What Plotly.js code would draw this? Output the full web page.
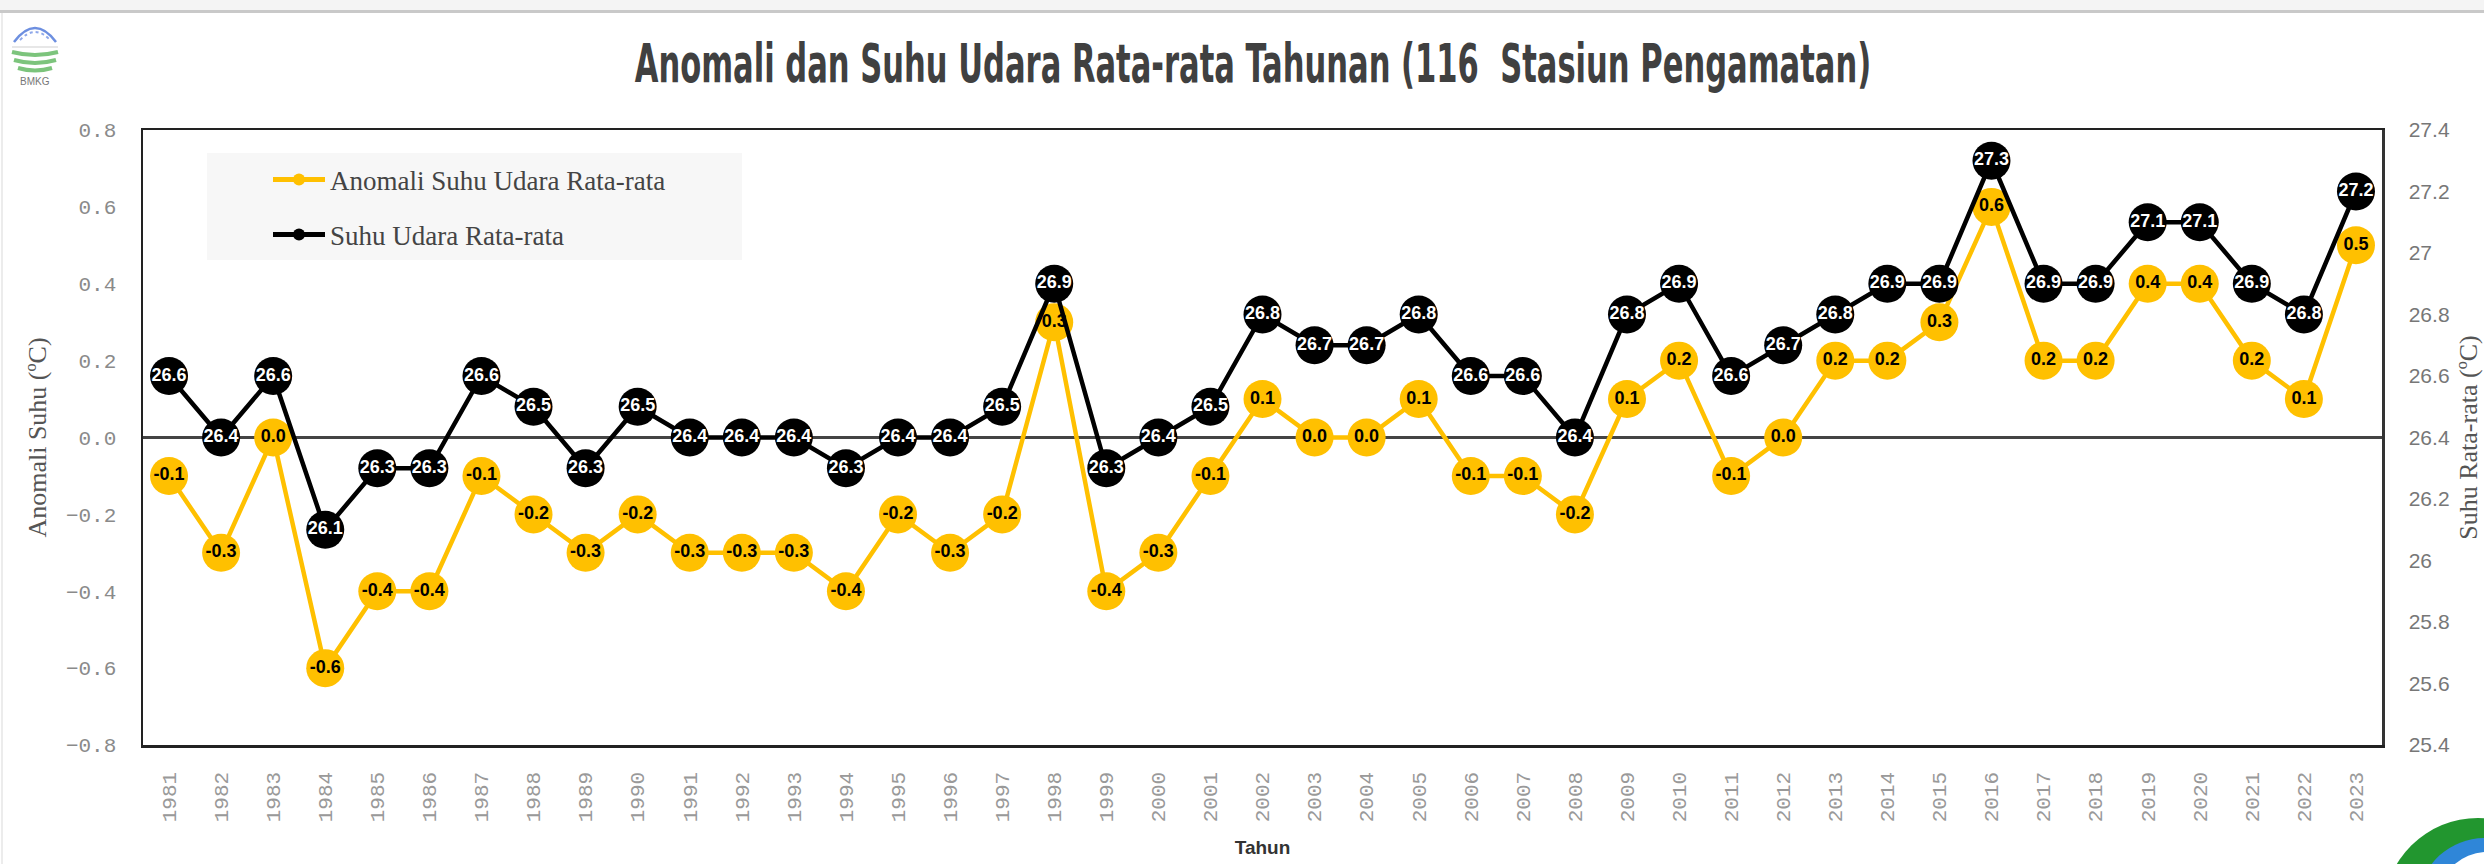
<!DOCTYPE html>
<html>
<head>
<meta charset="utf-8">
<script src="https://cdn.plot.ly/plotly-3.0.1.min.js"></script>
<style>
html,body{margin:0;padding:0;background:#fff;}
#chart{width:2484px;height:864px;}
</style>
</head>
<body>
<div id="chart"></div>
<script>
// ---- data ----
const years = ['1981','1982','1983','1984','1985','1986','1987','1988','1989','1990',
  '1991','1992','1993','1994','1995','1996','1997','1998','1999','2000',
  '2001','2002','2003','2004','2005','2006','2007','2008','2009','2010',
  '2011','2012','2013','2014','2015','2016','2017','2018','2019','2020',
  '2021','2022','2023'];
const anomali = [-0.1,-0.3,0.0,-0.6,-0.4,-0.4,-0.1,-0.2,-0.3,-0.2,
  -0.3,-0.3,-0.3,-0.4,-0.2,-0.3,-0.2,0.3,-0.4,-0.3,
  -0.1,0.1,0.0,0.0,0.1,-0.1,-0.1,-0.2,0.1,0.2,
  -0.1,0.0,0.2,0.2,0.3,0.6,0.2,0.2,0.4,0.4,
  0.2,0.1,0.5];
const suhu = [26.6,26.4,26.6,26.1,26.3,26.3,26.6,26.5,26.3,26.5,
  26.4,26.4,26.4,26.3,26.4,26.4,26.5,26.9,26.3,26.4,
  26.5,26.8,26.7,26.7,26.8,26.6,26.6,26.4,26.8,26.9,
  26.6,26.7,26.8,26.9,26.9,27.3,26.9,26.9,27.1,27.1,
  26.9,26.8,27.2];
const anomaliTicks = [-0.8,-0.6,-0.4,-0.2,0,0.2,0.4,0.6,0.8];
const suhuTicks = [25.4,25.6,25.8,26.0,26.2,26.4,26.6,26.8,27.0,27.2,27.4];
const suhuTickText = ['25.4','25.6','25.8','26','26.2','26.4','26.6','26.8','27','27.2','27.4'];
const anomaliText = anomali.map(v => v.toFixed(1));
const suhuText = suhu.map(v => v.toFixed(1));

// ---- geometry helpers (layout only) ----
const W = 2484, H = 864, L = 143, R = 2382, T = 130, B = 745;
const px = X => (X - L) / (R - L);
const py = Y => (B - Y) / (B - T);
const P = (X, Y) => px(X) + ',' + py(Y);

const YELLOW = '#FFC000';
const MONO = '"Liberation Mono","Courier New",monospace';
const SERIF = '"Liberation Serif","Times New Roman",serif';
const SANS = '"Liberation Sans",Arial,sans-serif';

const traces = [
  {x: years, y: anomali, yaxis: 'y', mode: 'lines+markers', name: 'Anomali Suhu Udara Rata-rata',
   legend: 'legend', line: {color: YELLOW, width: 4.5}, marker: {color: YELLOW, size: 38}, hoverinfo: 'x+y'},
  {x: years, y: anomali, yaxis: 'y', mode: 'text', text: anomaliText, showlegend: false, hoverinfo: 'skip',
   textposition: 'middle center', textfont: {family: SANS, size: 18, color: '#000', weight: 'bold'}},
  {x: years, y: suhu, yaxis: 'y2', mode: 'lines+markers', name: 'Suhu Udara Rata-rata',
   legend: 'legend2', line: {color: '#000', width: 4.5}, marker: {color: '#000', size: 38}, hoverinfo: 'x+y'},
  {x: years, y: suhu, yaxis: 'y2', mode: 'text', text: suhuText, showlegend: false, hoverinfo: 'skip',
   textposition: 'middle center', textfont: {family: SANS, size: 18, color: '#fff', weight: 'bold'}}
];

const legendCommon = {
  xanchor: 'left', yanchor: 'middle', bgcolor: 'rgba(0,0,0,0)', borderwidth: 0,
  font: {family: SERIF, size: 27, color: '#444'}, itemwidth: 52, itemsizing: 'constant'
};

const shapes = [
  // legend background
  {type: 'rect', xref: 'paper', yref: 'paper', x0: px(207), x1: px(742), y0: py(260), y1: py(153),
   fillcolor: '#f7f7f7', line: {width: 0}, layer: 'below'},
  // top window band
  {type: 'rect', xref: 'paper', yref: 'paper', x0: px(0), x1: px(W), y0: py(10), y1: py(0),
   fillcolor: '#f4f4f4', line: {width: 0}},
  {type: 'line', xref: 'paper', yref: 'paper', x0: px(0), x1: px(W), y0: py(11.5), y1: py(11.5),
   line: {color: '#c9c9c9', width: 3}},
  {type: 'line', xref: 'paper', yref: 'paper', x0: px(2), x1: px(2), y0: py(13), y1: py(H),
   line: {color: '#ececec', width: 2}},
  // BMKG logo (top-left)
  {type: 'path', xref: 'paper', yref: 'paper', path: 'M' + P(14, 42) + ' Q' + P(35, 14) + ' ' + P(56, 42),
   line: {color: '#6d8fe0', width: 2.5}},
  {type: 'path', xref: 'paper', yref: 'paper', path: 'M' + P(20, 40) + ' Q' + P(35, 24) + ' ' + P(50, 40),
   line: {color: '#8fa8ea', width: 2, dash: 'dot'}},
  {type: 'line', xref: 'paper', yref: 'paper', x0: px(12), x1: px(58), y0: py(47), y1: py(47),
   line: {color: '#cfcfcf', width: 1}},
  {type: 'path', xref: 'paper', yref: 'paper', path: 'M' + P(12, 52) + ' Q' + P(35, 58) + ' ' + P(58, 52),
   line: {color: '#7cc47c', width: 4}},
  {type: 'path', xref: 'paper', yref: 'paper', path: 'M' + P(14, 60) + ' Q' + P(35, 66) + ' ' + P(56, 60),
   line: {color: '#7cc47c', width: 4}},
  {type: 'path', xref: 'paper', yref: 'paper', path: 'M' + P(18, 68) + ' Q' + P(35, 73) + ' ' + P(52, 68),
   line: {color: '#7cc47c', width: 4}},
  // bottom-right logo (partially visible)
  {type: 'circle', xref: 'paper', yref: 'paper', x0: px(2384), x1: px(2572), y0: py(1004), y1: py(818),
   fillcolor: '#22962f', line: {width: 0}},
  {type: 'circle', xref: 'paper', yref: 'paper', x0: px(2420), x1: px(2550), y0: py(960), y1: py(838),
   fillcolor: '#2f86d8', line: {width: 0}},
  {type: 'circle', xref: 'paper', yref: 'paper', x0: px(2438), x1: px(2536), y0: py(950), y1: py(852),
   fillcolor: '#ffffff', line: {width: 0}}
];

const annotations = [
  {xref: 'paper', yref: 'paper', x: px(35), y: py(81), text: 'BMKG', showarrow: false,
   font: {family: SANS, size: 10, color: '#777'}, xanchor: 'center', yanchor: 'middle'}
];

const layout = {
  width: W, height: H,
  margin: {l: L, r: W - R, t: T, b: H - B, pad: 0},
  paper_bgcolor: '#fff', plot_bgcolor: '#fff',
  showlegend: true,
  title: {
    text: 'Anomali dan Suhu Udara Rata-rata Tahunan (116  Stasiun Pengamatan)',
    font: {family: '"DejaVu Sans Condensed","Liberation Sans Narrow","Roboto Condensed","DejaVu Sans",sans-serif',
           size: 34, color: '#404040', weight: 'bold'},
    xref: 'container', yref: 'container', x: 1253 / W, xanchor: 'center', y: 1 - 64 / H, yanchor: 'middle'
  },
  xaxis: {
    type: 'category', range: [-0.5, 42.5], fixedrange: true,
    showline: true, mirror: true, linecolor: '#222', linewidth: 2.5,
    showgrid: false, zeroline: false, ticks: '', tickangle: -90, ticklabelstandoff: 16,
    tickfont: {family: MONO, size: 21, color: '#999'},
    title: {text: 'Tahun', font: {family: SANS, size: 19, color: '#333', weight: 'bold'}, standoff: 20}
  },
  yaxis: {
    range: [-0.8, 0.8], tickvals: anomaliTicks, tickformat: '.1f', fixedrange: true,
    showline: true, mirror: true, linecolor: '#222', linewidth: 2.5,
    showgrid: false, zeroline: true, zerolinecolor: '#444', zerolinewidth: 3,
    ticks: '', ticklabelstandoff: 20,
    tickfont: {family: MONO, size: 21, color: '#8a8a8a'},
    title: {text: 'Anomali Suhu (ºC)', font: {family: SERIF, size: 26, color: '#555'}, standoff: 12}
  },
  yaxis2: {
    overlaying: 'y', side: 'right', range: [25.4, 27.4], tickvals: suhuTicks, ticktext: suhuTickText,
    fixedrange: true, showline: true, linecolor: '#333', linewidth: 2.5,
    showgrid: false, zeroline: false, ticks: '', ticklabelstandoff: 20,
    tickfont: {family: SANS, size: 21, color: '#777'},
    title: {text: 'Suhu Rata-rata (ºC)', font: {family: SERIF, size: 26, color: '#555'}, standoff: 10}
  },
  legend: Object.assign({x: px(268), y: py(180)}, legendCommon),
  legend2: Object.assign({x: px(268), y: py(235)}, legendCommon),
  shapes: shapes,
  annotations: annotations
};

Plotly.newPlot('chart', traces, layout, {displayModeBar: false, staticPlot: true}).then(gd => {
  // the original title uses a tall condensed display face: stretch the title text vertically
  const t = gd.querySelector('.gtitle');
  if (t) {
    const bb = t.getBBox();
    const cy = bb.y + bb.height / 2;
    const prev = t.getAttribute('transform') || '';
    t.setAttribute('transform', prev + ' translate(0 ' + cy + ') scale(1 1.55) translate(0 ' + (-cy) + ')');
  }
});
</script>
</body>
</html>
